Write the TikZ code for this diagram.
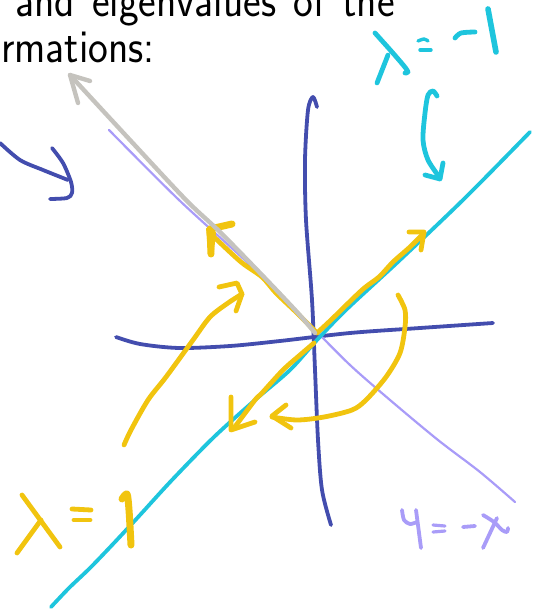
\documentclass[tikz,border=0pt]{standalone}
\usepackage{tikz}
\definecolor{penblue}{HTML}{434DAE}
\definecolor{pencyan}{HTML}{1EC5DD}
\definecolor{penlilac}{HTML}{A99CF8}
\definecolor{pengray}{HTML}{C5C3BE}
\definecolor{penyellow}{HTML}{F1C40F}

\begin{document}
\begin{tikzpicture}[x=1pt,y=-1pt,line cap=round,line join=round,
    ink/.style={line width=3.8pt},
    fine/.style={line width=2.2pt},
    letter/.style={line width=4.8pt},
    slide/.style={anchor=base west,inner sep=0pt,yscale=1.12,transform shape,
      font=\fontsize{42}{50}\selectfont\sffamily}]
  \useasboundingbox (0,0) rectangle (541,609);

  % slide text, cut off at the top and left
  \node[slide] (lineone) at (15,17) {and\hspace{.1em} eigenvalues\hspace{.1em} of\hspace{.1em} the};
  \node[slide] (linetwo) at (1,63) {rmations:};

  % axes
  \draw[penblue,ink] plot[smooth] coordinates {(317,107) (313,97) (308,110)
    (305,160) (306,220) (312,300) (315,370) (318,440) (322,490) (331,525)};
  \draw[penblue,ink] plot[smooth] coordinates {(116,337) (140,344) (179,348)
    (230,346) (280,341) (350,333) (420,328) (493,323)};

  % bent arrow on the left
  \draw[penblue,ink] plot[smooth] coordinates {(0,143) (20,160) (43,170) (68,180)};
  \draw[penblue,ink] plot[smooth] coordinates {(52,148) (63,163) (71,182)
    (72,193) (67,198) (50,199)};

  % y = -x
  \draw[penlilac,fine] plot[smooth] coordinates {(109,130) (179,200) (250,265)
    (312,327) (350,365) (390,400) (438,440) (480,472) (515,502)};

  % eigenline, lambda = 1 / -1
  \draw[pencyan,ink] plot[smooth] coordinates {(530,132) (465,198) (400,260)
    (347,309) (317,340) (290,370) (255,400) (214,437) (172,480) (140,515)
    (114,543) (90,568) (69,588) (51,607)};

  % yellow strokes
  \draw[penyellow,letter] plot[smooth] coordinates {(316,332) (297,313)
    (276,293) (262,277) (241,262) (214,237)};
  \draw[penyellow,line width=7pt] (232,224) -- (210,229) -- (211,254);
  \fill[penyellow] (206,228) -- (216,232) -- (214,252) -- (208,250) -- cycle;
  \draw[penyellow,letter] plot[smooth] coordinates {(317,333) (331,320)
    (362,290) (379,277) (393,262) (410,247) (424,233)};
  \draw[penyellow,letter] (409,232) -- (424,232) -- (421,250);
  \draw[penyellow,letter] plot[smooth] coordinates {(314,343) (300,355)
    (283,370) (262,393) (255,400) (234,428)};
  \draw[penyellow,letter] (231,397) -- (231,430) -- (255,422);
  \draw[penyellow,letter] plot[smooth] coordinates {(124,445) (131,430)
    (148,400) (166,377) (193,340) (210,317) (228,303) (242,294)};
  \draw[penyellow,letter] (219,287) -- (237,283) -- (242,294) -- (236,311);
  \draw[penyellow,letter] plot[smooth] coordinates {(398,295) (405,310)
    (405,327) (400,353) (386,377) (366,400) (352,410) (324,417) (297,420)
    (272,417)};
  \draw[penyellow,letter] (286,405) -- (272,416) -- (291,428);

  % reflected vector
  \draw[pengray,line width=4.4pt] plot[smooth] coordinates {(315,333) (297,312)
    (262,275) (220,232) (186,200) (130,140) (70,75)};
  \draw[pengray,line width=4.4pt] (90,81) -- (70,75) -- (78,103);

  % label lambda = -1 and its arrow
  \draw[pencyan,letter] plot[smooth] coordinates {(375,33) (392,52) (404,66)
    (408,72) (405,73)};
  \draw[pencyan,letter] (388,55) -- (377,83);
  \draw[pencyan,line width=3.4pt] plot[smooth] coordinates {(418,41) (424,39) (428,41)};
  \draw[pencyan,line width=3.4pt] (420,50) -- (431,50);
  \draw[pencyan,letter] plot[smooth] coordinates {(455,38) (461,33) (475,32)};
  \draw[pencyan,line width=5.6pt] (488,9) -- (496,52);
  \draw[pencyan,letter] plot[smooth] coordinates {(437,96) (433,91) (428,95)
    (425,113) (423,140) (428,160) (440,178)};
  \draw[pencyan,letter] (425,175) -- (440,179) -- (443,163);

  % label lambda = 1
  \draw[penyellow,letter] (22,495) -- (60,547);
  \draw[penyellow,letter] (41,520) -- (17,553);
  \draw[penyellow,letter] (72,509) -- (91,510);
  \draw[penyellow,letter] (74,520) -- (90,520);
  \draw[penyellow,line width=7pt] plot[smooth] coordinates {(122,499) (127,494)
    (129,510) (131,545)};

  % label y = -x
  \draw[penlilac,line width=3.8pt] plot[smooth] coordinates {(402,510) (404,520)
    (410,524) (417,522)};
  \draw[penlilac,line width=3.8pt] (416,510) -- (421,548);
  \draw[penlilac,line width=3.2pt] (433,525) -- (445,526);
  \draw[penlilac,line width=3.2pt] (433,532) -- (445,531);
  \draw[penlilac,line width=3.8pt] (463,527) -- (475,526);
  \draw[penlilac,line width=3.8pt] plot[smooth] coordinates {(483,515) (494,522)
    (502,530) (507,532) (508,528)};
  \draw[penlilac,line width=3.8pt] (497,518) -- (483,548);
\end{tikzpicture}
\end{document}
